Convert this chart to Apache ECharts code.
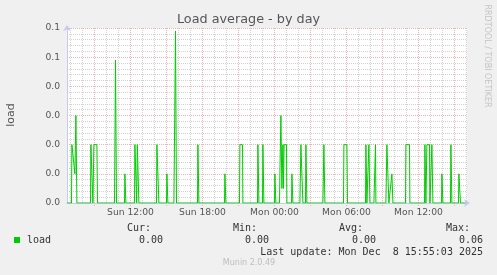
<!DOCTYPE html>
<html><head><meta charset="utf-8">
<script src="https://cdn.jsdelivr.net/npm/echarts@6/dist/echarts.min.js"></script>
<style>html,body{margin:0;padding:0;background:#f0f0f0}#c{width:497px;height:275px}</style>
</head><body><div id="c"></div>
<script>
const chartTitle = 'Load average - by day';
const yAxisName = 'load';
const seriesName = 'load';
// points where the 5-minute load value changes (day + local time)
const loadTimes = [
 'Sun 06:43','Sun 07:05','Sun 07:07','Sun 07:15','Sun 07:22','Sun 07:27','Sun 07:32',
 'Sun 08:40','Sun 08:42','Sun 08:47','Sun 08:52','Sun 08:55','Sun 08:57','Sun 09:12','Sun 09:15',
 'Sun 10:40','Sun 10:45','Sun 10:50',
 'Sun 11:30','Sun 11:32','Sun 11:37',
 'Sun 12:20','Sun 12:22','Sun 12:27','Sun 12:31','Sun 12:34','Sun 12:40','Sun 12:42',
 'Sun 14:10','Sun 14:12','Sun 14:20','Sun 14:22',
 'Sun 15:00','Sun 15:02','Sun 15:07',
 'Sun 15:37','Sun 15:45','Sun 15:50',
 'Sun 17:35','Sun 17:37','Sun 17:42',
 'Sun 19:50','Sun 19:52','Sun 19:57',
 'Sun 21:05','Sun 21:07','Sun 21:20','Sun 21:22',
 'Sun 22:35','Sun 22:37','Sun 22:42',
 'Sun 23:00','Sun 23:02','Sun 23:07',
 'Mon 00:00','Mon 00:02','Mon 00:07',
 'Mon 00:25','Mon 00:27','Mon 00:32','Mon 00:37','Mon 00:42','Mon 00:45','Mon 00:48','Mon 01:00','Mon 01:02',
 'Mon 01:25','Mon 01:27','Mon 01:32',
 'Mon 02:07','Mon 02:12','Mon 02:20','Mon 02:22',
 'Mon 02:35','Mon 02:37','Mon 02:42',
 'Mon 04:02','Mon 04:07','Mon 04:12',
 'Mon 05:45','Mon 05:47','Mon 06:02','Mon 06:05',
 'Mon 07:35','Mon 07:37','Mon 07:42',
 'Mon 07:50','Mon 07:52','Mon 07:57',
 'Mon 08:17','Mon 08:25','Mon 08:27',
 'Mon 09:17','Mon 09:22','Mon 09:27','Mon 09:32',
 'Mon 09:42','Mon 09:47','Mon 09:52',
 'Mon 10:55','Mon 10:57','Mon 11:15','Mon 11:17',
 'Mon 12:30','Mon 12:32','Mon 12:37','Mon 12:42','Mon 12:55','Mon 12:57',
 'Mon 13:05','Mon 13:07','Mon 13:12',
 'Mon 13:55','Mon 13:57','Mon 14:02',
 'Mon 14:40','Mon 14:42','Mon 14:47',
 'Mon 15:20','Mon 15:22','Mon 15:30',
 'Mon 15:55'
];
const loadValues = [
 0,0,0.02,0.02,0.01,0.03,0,
 0,0.02,0.02,0,0,0.02,0.02,0,
 0,0.049,0,
 0,0.01,0,
 0,0.02,0.02,0,0.02,0.02,0,
 0,0.02,0.02,0,
 0,0.01,0,
 0,0.059,0,
 0,0.02,0,
 0,0.01,0,
 0,0.02,0.02,0,
 0,0.02,0,
 0,0.02,0,
 0,0.01,0,
 0,0.01,0.03,0.005,0.02,0.005,0.02,0.02,0,
 0,0.01,0,
 0,0.02,0.02,0,
 0,0.02,0,
 0,0.02,0,
 0,0.02,0.02,0,
 0,0.02,0,
 0,0.02,0,
 0,0.02,0,
 0,0.02,0.02,0,
 0,0.01,0,
 0,0.02,0.02,0,
 0,0.02,0,0.02,0.02,0,
 0,0.02,0,
 0,0.01,0,
 0,0.02,0,
 0,0.01,0,
 0
];
const axisStart = 'Sun 06:42:30';
const axisEnd = 'Mon 16:02:30';
const xLabelTimes = ['Sun 12:00','Sun 18:00','Mon 00:00','Mon 06:00','Mon 12:00'];
const xMajorTimes = ['Sun 09:00','Sun 12:00','Sun 15:00','Sun 18:00','Sun 21:00','Mon 00:00','Mon 03:00','Mon 06:00','Mon 09:00','Mon 12:00','Mon 15:00'];
const xMinorTimes = ['Sun 07:00','Sun 08:00','Sun 10:00','Sun 11:00','Sun 13:00','Sun 14:00','Sun 16:00','Sun 17:00','Sun 19:00','Sun 20:00','Sun 22:00','Sun 23:00',
 'Mon 01:00','Mon 02:00','Mon 04:00','Mon 05:00','Mon 07:00','Mon 08:00','Mon 10:00','Mon 11:00','Mon 13:00','Mon 14:00','Mon 16:00'];
const yMin = 0, yMax = 0.06, yStep = 0.01;
const yTickLabels = ['0.0','0.0','0.0','0.0','0.0','0.1','0.1'];
const statHeads = ['Cur:','Min:','Avg:','Max:'];
const statValues = ['0.00','0.00','0.00','0.06'];
const lastUpdate = 'Last update: Mon Dec  8 15:55:03 2025';
const creditText = 'Munin 2.0.49';
const sideText = 'RRDTOOL / TOBI OETIKER';

function toMs(s){
  const parts = s.split(' ');
  const hms = parts[1].split(':').map(Number);
  return new Date(2025, 11, parts[0] === 'Sun' ? 7 : 8, hms[0], hms[1], hms[2] || 0).getTime();
}
const xLabelMs = xLabelTimes.map(toMs);
const seriesData = loadTimes.map((t, i) => [toMs(t), loadValues[i]]);

const MONO = '"DejaVu Sans Mono", monospace';
const SANS = '"DejaVu Sans", sans-serif';
const RED = '#eeb4b4', GRAY = '#d2d2d2', AXIS = '#c8c8f4';

const chart = echarts.init(document.getElementById('c'), null, {renderer: 'canvas'});
const statHeadX = [151, 257, 363, 470];
const statValX = [163, 269, 376, 483];
const graphics = [
  {type:'text', x: 248.5, y: 20, style:{text: chartTitle, font: '12.8px ' + SANS, fill:'#555', textAlign:'center', textVerticalAlign:'middle', align:'center', verticalAlign:'middle'}},
  {type:'text', x: 11, y: 115, rotation: Math.PI/2, style:{text: yAxisName, font: '11px ' + SANS, fill:'#555', textAlign:'center', textVerticalAlign:'middle', align:'center', verticalAlign:'middle'}},
  {type:'text', x: 487, y: 56, rotation: -Math.PI/2, style:{text: sideText, font: '8px ' + SANS, fill:'#c4c4c4', textAlign:'center', textVerticalAlign:'middle', align:'center', verticalAlign:'middle'}},
  {type:'rect', shape:{x:14, y:237, width:6, height:6}, style:{fill:'#00cc00'}},
  {type:'text', x: 27, y: 240, style:{text: seriesName, font: '10px ' + MONO, fill:'#333', textAlign:'left', textVerticalAlign:'middle', align:'left', verticalAlign:'middle'}},
  {type:'text', x: 483, y: 252, style:{text: lastUpdate, font: '10px ' + MONO, fill:'#333', textAlign:'right', textVerticalAlign:'middle', align:'right', verticalAlign:'middle'}},
  {type:'text', x: 249, y: 263, style:{text: creditText, font: '8px ' + SANS, fill:'#bdbdbd', textAlign:'center', textVerticalAlign:'middle', align:'center', verticalAlign:'middle'}}
];
statHeads.forEach((h, i) => {
  graphics.push({type:'text', x: statHeadX[i], y: 228, style:{text: h, font: '10px ' + MONO, fill:'#333', textAlign:'right', textVerticalAlign:'middle', align:'right', verticalAlign:'middle'}});
  graphics.push({type:'text', x: statValX[i], y: 240, style:{text: statValues[i], font: '10px ' + MONO, fill:'#333', textAlign:'right', textVerticalAlign:'middle', align:'right', verticalAlign:'middle'}});
});

chart.setOption({
  animation: false,
  backgroundColor: '#f0f0f0',
  grid: {left: 67, right: 30, top: 28, bottom: 72, show: true, backgroundColor: '#ffffff', borderWidth: 0},
  xAxis: [
    {
      type: 'value', min: toMs(axisStart), max: toMs(axisEnd), z: 3,
      axisLine: {show: true, lineStyle: {color: AXIS, width: 1}, symbol: ['none','arrow'], symbolSize: [6, 6], symbolOffset: [0, 3]},
      axisTick: {show: true, customValues: xMajorTimes.map(toMs), length: 3, lineStyle: {color: RED, type: [1,1]}},
      axisLabel: {show: true, customValues: xLabelMs, margin: 5, color: '#555', fontFamily: 'DejaVu Sans', fontSize: 9.2,
        formatter: v => { let best = 0; xLabelMs.forEach((m, i) => { if (Math.abs(m - v) < Math.abs(xLabelMs[best] - v)) best = i; }); return xLabelTimes[best]; }},
      splitLine: {show: true, lineStyle: {color: RED, width: 1, type: [1,1]}}
    },
    {
      type: 'value', min: toMs(axisStart), max: toMs(axisEnd), z: 1,
      axisLine: {show: false},
      axisTick: {show: false, customValues: xMinorTimes.map(toMs)},
      axisLabel: {show: false},
      splitLine: {show: true, lineStyle: {color: GRAY, width: 1, type: [1,1]}}
    }
  ],
  yAxis: {
    type: 'value', min: yMin, max: yMax, interval: yStep,
    axisLine: {show: true, lineStyle: {color: AXIS, width: 1}, symbol: ['none','arrow'], symbolSize: [6, 6], symbolOffset: [0, 3]},
    axisTick: {show: false},
    axisLabel: {margin: 7, color: '#555', fontFamily: 'DejaVu Sans', fontSize: 9.2,
      formatter: v => yTickLabels[Math.round((v - yMin) / yStep)]},
    splitLine: {show: true, lineStyle: {color: RED, width: 1, type: [1,1]}},
    minorTick: {show: false, splitNumber: 5},
    minorSplitLine: {show: true, lineStyle: {color: GRAY, width: 1, type: [1,1]}}
  },
  series: [{
    name: seriesName, type: 'line', xAxisIndex: 0, data: seriesData, showSymbol: false, symbol: 'none',
    lineStyle: {color: '#00cc00', width: 1}, z: 10, silent: true
  }],
  graphic: graphics
});
</script></body></html>
